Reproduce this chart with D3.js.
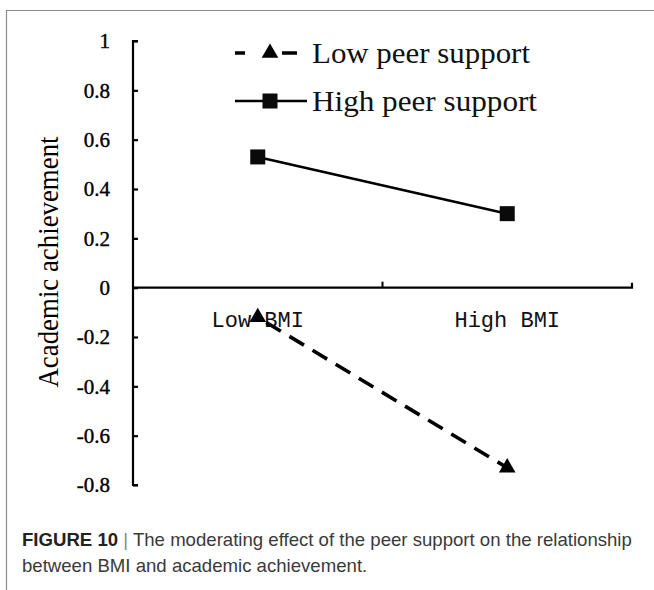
<!DOCTYPE html>
<html><head><meta charset="utf-8">
<script src="https://cdn.jsdelivr.net/npm/d3@7"></script>
<style>body{margin:0;background:#fff}svg{display:block}</style>
</head><body>
<script>
const categories = ["Low BMI", "High BMI"];
const seriesNames = ["Low peer support", "High peer support"];
const lowPeer = [-0.12, -0.73];
const highPeer = [0.53, 0.30];
const yTicks = [1, 0.8, 0.6, 0.4, 0.2, 0, -0.2, -0.4, -0.6, -0.8];
const yTickLabels = ["1", "0.8", "0.6", "0.4", "0.2", "0", "-0.2", "-0.4", "-0.6", "-0.8"];

const W = 654, H = 590;
const svg = d3.select("body").append("svg").attr("width", W).attr("height", H);

// frame
svg.append("line").attr("x1", 6).attr("x2", W).attr("y1", 10.5).attr("y2", 10.5).attr("stroke", "#8a8a8a").attr("stroke-width", 1.2);
svg.append("line").attr("x1", 6.5).attr("x2", 6.5).attr("y1", 10).attr("y2", H).attr("stroke", "#8a8a8a").attr("stroke-width", 1.2);

const x = d3.scaleBand().domain(categories).range([133, 632]);
const y = d3.scaleLinear().domain([-0.8, 1]).range([485, 41]);
const serif = "'Liberation Serif', 'Times New Roman', serif";

// y axis
const yAxis = d3.axisRight(y).tickValues(yTicks).tickSize(5).tickFormat("");
const gy = svg.append("g").attr("transform", "translate(133,0)").call(yAxis);
gy.selectAll("path,line").attr("stroke", "#000").attr("stroke-width", 2.2);
gy.select(".domain").attr("d", "M5," + y(1) + "H0V" + y(-0.8) + "H5");
svg.append("g").selectAll("text").data(yTicks).join("text")
  .attr("x", 110).attr("y", d => y(d)).attr("dy", "0.35em")
  .attr("text-anchor", "end").attr("font-family", serif).attr("font-size", 21)
  .attr("fill", "#000").attr("stroke", "#000").attr("stroke-width", 0.4)
  .text((d, i) => yTickLabels[i]);

// x axis at y=0
const xAxis = d3.axisTop(x).tickSize(0).tickFormat("");
const gx = svg.append("g").attr("transform", "translate(0," + y(0) + ")").call(xAxis);
gx.select(".domain").attr("stroke", "#000").attr("stroke-width", 2.2)
  .attr("d", "M133,0H632V-5");
const bounds = [x(categories[1])];
gx.selectAll(".sep").data(bounds).join("line").attr("class", "sep")
  .attr("x1", d => d).attr("x2", d => d).attr("y1", 0).attr("y2", -6)
  .attr("stroke", "#000").attr("stroke-width", 2);
svg.append("g").selectAll("text").data(categories).join("text")
  .attr("x", d => x(d) + x.bandwidth() / 2).attr("y", 327)
  .attr("text-anchor", "middle").attr("font-family", "'Liberation Mono', monospace")
  .attr("font-size", 22).attr("fill", "#111").text(d => d);

const cx = d => x(d) + x.bandwidth() / 2;
const line = d3.line().x((d, i) => cx(categories[i])).y(d => y(d));

// high peer support: solid with squares
svg.append("path").datum(highPeer).attr("d", line).attr("fill", "none")
  .attr("stroke", "#000").attr("stroke-width", 2.6);
svg.append("g").selectAll("rect").data(highPeer).join("rect")
  .attr("x", (d, i) => cx(categories[i]) - 7.5).attr("y", d => y(d) - 7.5)
  .attr("width", 15).attr("height", 15).attr("fill", "#0a0a0a");

// low peer support: dashed with triangles
svg.append("path").datum(lowPeer).attr("d", line).attr("fill", "none")
  .attr("stroke", "#000").attr("stroke-width", 3.6).attr("stroke-dasharray", "17,10")
  .attr("stroke-dashoffset", -10);
const tri = d3.symbol().type(d3.symbolTriangle).size(120);
svg.append("g").selectAll("path").data(lowPeer).join("path")
  .attr("d", tri).attr("transform", (d, i) => "translate(" + cx(categories[i]) + "," + y(d) + ")")
  .attr("fill", "#000");

// y title
svg.append("text").attr("transform", "translate(58,262) rotate(-90)")
  .attr("text-anchor", "middle").attr("font-family", serif).attr("font-size", 29)
  .attr("textLength", 251).attr("lengthAdjust", "spacingAndGlyphs")
  .attr("fill", "#000").text("Academic achievement");

// legend
const lg = svg.append("g");
const rows = [53, 101];
lg.append("line").attr("x1", 235).attr("x2", 307).attr("y1", rows[0]).attr("y2", rows[0])
  .attr("stroke", "#000").attr("stroke-width", 3.6).attr("stroke-dasharray", "10,17,0,20,15");
lg.append("path").attr("d", tri).attr("transform", "translate(270," + rows[0] + ")").attr("fill", "#000");
lg.append("line").attr("x1", 235).attr("x2", 307).attr("y1", rows[1]).attr("y2", rows[1])
  .attr("stroke", "#000").attr("stroke-width", 2.6);
lg.append("rect").attr("x", 262.5).attr("y", rows[1] - 7.5).attr("width", 15).attr("height", 15).attr("fill", "#0a0a0a");
lg.selectAll("text").data(seriesNames).join("text")
  .attr("x", 312).attr("y", (d, i) => rows[i]).attr("dy", "0.33em")
  .attr("font-family", serif).attr("font-size", 30).attr("fill", "#111")
  .attr("textLength", (d, i) => i === 0 ? 218 : 225).attr("lengthAdjust", "spacingAndGlyphs")
  .text(d => d);

// caption
const sans = "'Liberation Sans', Arial, sans-serif";
const cap = svg.append("text").attr("x", 22).attr("y", 546).attr("font-family", sans).attr("font-size", 18.6).attr("fill", "#3a3a3a");
cap.append("tspan").attr("font-weight", "bold").attr("fill", "#222").text("FIGURE 10");
cap.append("tspan").attr("fill", "#888").text(" | ");
cap.append("tspan").text("The moderating effect of the peer support on the relationship");
svg.append("text").attr("x", 22).attr("y", 572).attr("font-family", sans).attr("font-size", 18.6).attr("fill", "#3a3a3a")
  .text("between BMI and academic achievement.");
</script>
</body></html>
